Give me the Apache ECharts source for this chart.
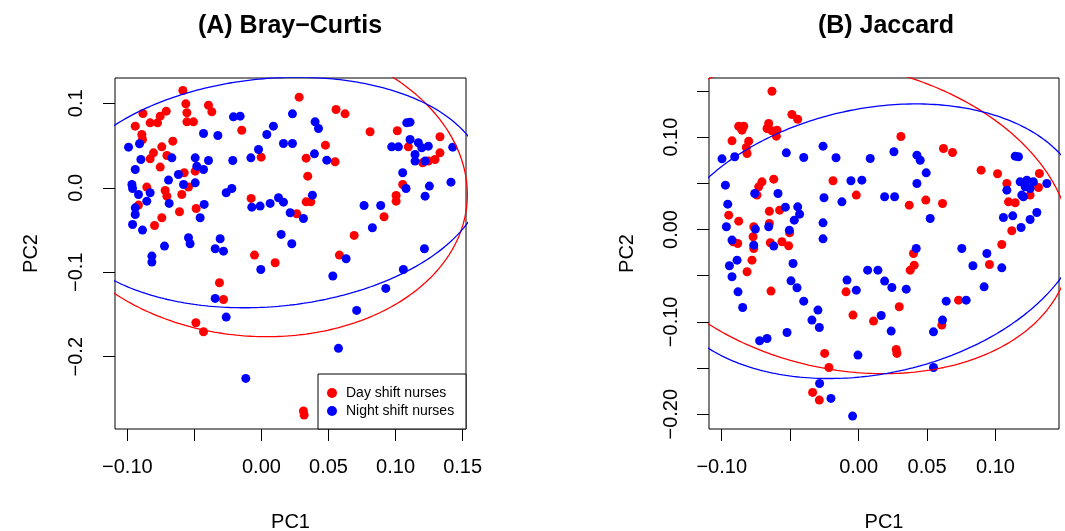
<!DOCTYPE html>
<html>
<head>
<meta charset="utf-8">
<script src="https://cdn.jsdelivr.net/npm/echarts@6/dist/echarts.min.js"></script>
<style>
  html, body { margin: 0; padding: 0; background: #fff; }
  #chart { width: 1065px; height: 531px; }
</style>
</head>
<body>
<div id="chart"></div>
<script>
// groups and panel titles
const groups = ["Day shift nurses", "Night shift nurses"];
const panelTitles = ["(A) Bray\u2212Curtis", "(B) Jaccard"];

// (A) Bray-Curtis PCoA scores [PC1, PC2]
const bcDay = [
  [-0.0586,0.1152],[0.0281,0.1073],[-0.0564,0.0994],[-0.0395,0.0978],[-0.0370,0.0899],[-0.0556,0.0888],
  [-0.0710,0.0907],[-0.0755,0.0848],[-0.0775,0.0769],[-0.0830,0.0769],[-0.0884,0.0880],[-0.0941,0.0730],
  [-0.0892,0.0631],[-0.0887,0.0572],[-0.0556,0.0781],[-0.0507,0.0781],[-0.0147,0.0682],[0.0556,0.0927],
  [0.0623,0.0876],[0.0810,0.0663],[0.1013,0.0675],[0.1331,0.0604],[0.1331,0.0414],[0.1294,0.0335],
  [0.1244,0.0316],[0.1202,0.0296],[0.1095,0.0485],[-0.0002,0.0363],[0.0333,0.0351],[0.0477,0.0505],
  [0.0549,0.0308],[0.0345,0.0138],[-0.0661,0.0552],[-0.0743,0.0485],[-0.0805,0.0414],[-0.0830,0.0343],
  [-0.0705,0.0383],[-0.0755,0.0245],[-0.0576,0.0178],[-0.0494,0.0197],[-0.0544,0.0008],[-0.0594,-0.0079],
  [-0.0718,-0.0032],[-0.0705,-0.0099],[-0.0855,0.0008],[-0.0917,-0.0205],[-0.0611,-0.0284],[-0.0487,-0.0245],
  [-0.0743,-0.0355],[-0.0797,-0.0446],[-0.0077,-0.0126],[0.0333,-0.0166],[0.0368,-0.0166],[0.0263,-0.0308],
  [0.1053,0.0039],[0.1004,-0.0091],[0.1004,-0.0158],[0.0914,-0.0343],[0.0691,-0.0564],[-0.0052,-0.0797],
  [0.0102,-0.0888],[0.0581,-0.0797],[-0.0313,-0.1124],[-0.0283,-0.1322],[-0.0489,-0.1598],[-0.0432,-0.1704],
  [0.0313,-0.2643],[0.0318,-0.2690]
];
const bcNight = [
  [-0.0432,0.0643],[-0.0325,0.0619],[-0.0991,0.0481],[-0.0909,0.0521],[-0.0209,0.0840],[-0.0159,0.0848],
  [0.0089,0.0730],[0.0040,0.0631],[0.0231,0.0876],[0.0400,0.0781],[0.0425,0.0702],[0.0164,0.0525],
  [0.0231,0.0525],[-0.0022,0.0454],[-0.0079,0.0355],[-0.0214,0.0323],[0.0395,0.0402],[0.0487,0.0327],
  [-0.0668,0.0355],[-0.0899,0.0335],[-0.0941,0.0217],[-0.0494,0.0355],[-0.0482,0.0256],[-0.0395,0.0323],
  [-0.0432,0.0217],[-0.0619,0.0158],[-0.0693,0.0091],[-0.0581,0.0039],[-0.0494,0.0059],[-0.0966,0.0039],
  [-0.0961,-0.0008],[-0.0917,-0.0079],[-0.0855,-0.0158],[-0.0830,-0.0059],[-0.0941,-0.0237],[-0.0941,-0.0316],
  [-0.0688,-0.0185],[-0.0427,-0.0197],[-0.0457,-0.0355],[-0.0961,-0.0434],[-0.0887,-0.0501],[-0.0263,-0.0059],
  [-0.0221,-0.0008],[-0.0072,-0.0229],[-0.0010,-0.0217],[0.0065,-0.0185],[0.0127,-0.0118],[0.0164,-0.0170],
  [0.0214,-0.0296],[0.0313,-0.0363],[0.0380,-0.0087],[0.0147,-0.0552],[0.0226,-0.0663],[-0.0544,-0.0592],
  [-0.0532,-0.0663],[-0.0308,-0.0604],[-0.0345,-0.0722],[-0.0283,-0.0750],[-0.0723,-0.0690],[-0.0817,-0.0809],
  [-0.0817,-0.0880],[-0.0005,-0.0967],[0.0532,-0.1045],[0.0631,-0.0840],[0.0765,-0.0209],[0.0889,-0.0209],
  [0.0827,-0.0473],[0.1215,-0.0722],[0.1058,-0.0967],[0.1053,0.0178],[0.1078,-0.0008],[0.1252,0.0020],
  [0.1220,-0.0099],[0.1413,0.0067],[0.0971,0.0485],[0.1021,0.0485],[0.1083,0.0769],[0.1108,0.0777],
  [0.1108,0.0572],[0.1170,0.0533],[0.1195,0.0473],[0.1244,0.0493],[0.1145,0.0394],[0.1145,0.0316],
  [0.1220,0.0316],[0.1426,0.0481],[0.0927,-0.1191],[0.0710,-0.1452],[-0.0345,-0.1310],[-0.0263,-0.1531],
  [0.0574,-0.1901],[-0.0117,-0.2257]
];

// (B) Jaccard PCoA scores [PC1, PC2]
const jcDay = [
  [-0.0633,0.1497],[-0.0487,0.1245],[-0.0445,0.1194],[-0.0876,0.1118],[-0.0839,0.1118],[-0.0852,0.1075],
  [-0.0657,0.1147],[-0.0669,0.1093],[-0.0633,0.1068],[-0.0596,0.1075],[-0.0601,0.1010],[-0.0925,0.0960],
  [-0.0803,0.0956],[-0.0820,0.0888],[-0.0815,0.0823],[0.0309,0.1007],[0.0620,0.0877],[0.0686,0.0833],
  [0.0895,0.0642],[0.1015,0.0603],[0.1083,0.0498],[0.1321,0.0606],[0.1314,0.0455],[0.1253,0.0372],
  [0.1095,0.0299],[0.1144,0.0289],[0.1119,-0.0014],[0.1046,-0.0162],[0.0956,-0.0379],[-0.0187,0.0527],
  [-0.0017,0.0372],[0.0370,0.0263],[0.0491,0.0318],[0.0613,0.0281],[-0.0620,0.0545],[-0.0706,0.0516],
  [-0.0730,0.0462],[-0.0742,0.0372],[-0.0949,0.0155],[-0.0876,0.0090],[-0.0652,0.0198],[-0.0577,0.0209],
  [-0.0652,0.0065],[-0.0766,0.0029],[-0.0771,-0.0079],[-0.0766,-0.0206],[-0.0917,-0.0133],[-0.0883,-0.0152],
  [-0.0645,-0.0144],[-0.0560,-0.0133],[-0.0511,-0.0177],[-0.0504,-0.0036],[-0.0779,-0.0332],[-0.0815,-0.0458],
  [0.0401,-0.0260],[0.0406,-0.0386],[0.0377,-0.0440],[-0.0640,-0.0667],[-0.0092,-0.0675],[-0.0041,-0.0927],
  [0.0109,-0.0992],[0.0297,-0.0837],[0.0608,-0.1035],[0.0730,-0.0765],[-0.0248,-0.1342],[-0.0217,-0.1494],
  [-0.0336,-0.1764],[-0.0287,-0.1847],[0.0275,-0.1299],[0.0280,-0.1342]
];
const jcNight = [
  [-0.0998,0.0765],[-0.0905,0.0787],[-0.0528,0.0830],[-0.0401,0.0779],[-0.0260,0.0902],[-0.0165,0.0776],
  [0.0085,0.0769],[0.0258,0.0841],[0.0426,0.0805],[0.0450,0.0750],[0.0494,0.0613],[0.0426,0.0498],
  [0.0523,0.0119],[-0.0973,0.0480],[-0.0956,0.0274],[-0.0966,0.0029],[-0.0925,-0.0115],[-0.0759,0.0390],
  [-0.0589,0.0390],[-0.0535,0.0242],[-0.0445,0.0245],[-0.0431,0.0166],[-0.0470,0.0101],[-0.0260,0.0072],
  [-0.0260,-0.0101],[-0.0657,0.0029],[-0.0754,0.0004],[-0.0766,-0.0170],[-0.0620,-0.0180],[-0.0506,-0.0007],
  [-0.0253,0.0343],[-0.0122,0.0299],[-0.0056,0.0527],[0.0024,0.0534],[0.0190,0.0354],[0.0263,0.0354],
  [0.1144,0.0794],[0.1168,0.0787],[0.1180,0.0516],[0.1229,0.0534],[0.1277,0.0516],[0.1375,0.0498],
  [0.1217,0.0462],[0.1253,0.0444],[0.1192,0.0372],[0.1204,0.0354],[0.1083,0.0426],[0.1058,0.0130],
  [0.1126,0.0148],[0.1302,0.0184],[0.1253,0.0108],[0.1187,0.0022],[0.0754,-0.0206],[0.0835,-0.0393],
  [0.0937,-0.0260],[0.1046,-0.0415],[0.0421,-0.0206],[-0.0944,-0.0393],[-0.0888,-0.0332],[-0.0925,-0.0512],
  [0.0066,-0.0440],[0.0141,-0.0440],[-0.0085,-0.0548],[0.0190,-0.0559],[-0.0494,-0.0556],[-0.0479,-0.0368],
  [-0.0881,-0.0675],[-0.0847,-0.0844],[-0.0450,-0.0631],[-0.0401,-0.0776],[-0.0341,-0.0981],[-0.0297,-0.0873],
  [-0.0287,-0.1061],[-0.0523,-0.1115],[-0.0723,-0.1205],[-0.0669,-0.1180],[-0.0017,-0.0657],[0.0243,-0.0628],
  [0.0348,-0.0646],[0.0917,-0.0621],[0.0786,-0.0765],[0.0640,-0.0776],[0.0613,-0.0981],[0.0547,-0.1108],
  [0.0238,-0.1100],[0.0165,-0.0931],[-0.0005,-0.1360],[0.0547,-0.1494],[-0.0285,-0.1667],[-0.0202,-0.1829],
  [-0.0044,-0.2020]
];

// group ellipses: [centre x, centre y, x-half-axis, y shear, y-half-axis]
const bcEllipseDay = [-0.0050, 0.0021, 0.1585, -0.0101, 0.1781];
const bcEllipseNight = [0.0069, -0.0056, 0.1588, 0.0170, 0.1354];
const jcEllipseDay = [-0.0100, 0.0130, 0.1650, -0.0289, 0.1666];
const jcEllipseNight = [0.0100, -0.0127, 0.1550, 0.0304, 0.1455];

// axis ranges and ticks
const bcXRange = [-0.1092, 0.1525];
const bcYRange = [-0.2856, 0.1300];
const jcXRange = [-0.1093, 0.1464];
const jcYRange = [-0.2160, 0.1640];
const bcXTicks = [-0.1, -0.05, 0, 0.05, 0.1, 0.15];
const bcXLabels = [-0.1, 0, 0.05, 0.1, 0.15];
const bcYTicks = [-0.2, -0.1, 0, 0.1];
const bcYLabels = [-0.2, -0.1, 0, 0.1];
const jcXTicks = [-0.1, -0.05, 0, 0.05, 0.1];
const jcXLabels = [-0.1, 0, 0.05, 0.1];
const jcYTicks = [-0.2, -0.15, -0.1, -0.05, 0, 0.05, 0.1, 0.15];
const jcYLabels = [-0.2, -0.1, 0, 0.1];

const RED = "#ff0000";
const BLUE = "#0000ff";
const FONT = "'Liberation Sans', Arial, Helvetica, sans-serif";

function ellipsePath(p) {
  const [cx, cy, ax, ay, by] = p;
  const pts = [];
  for (let i = 0; i <= 360; i++) {
    const t = (i * Math.PI) / 180;
    pts.push([cx + ax * Math.cos(t), cy + ay * Math.cos(t) + by * Math.sin(t)]);
  }
  return pts;
}

function fmt(digits) {
  return (v) => (v < -1e-9 ? "\u2212" : "") + Math.abs(v).toFixed(digits);
}

function xAxisFor(grid, range, ticks, labels) {
  return {
    type: "value", gridIndex: grid, min: range[0], max: range[1],
    name: "PC1", nameLocation: "middle", nameGap: 83,
    nameTextStyle: { fontFamily: FONT, fontSize: 20, color: "#000" },
    axisLine: { show: false, onZero: false },
    splitLine: { show: false },
    axisTick: { show: true, length: 12, customValues: ticks, lineStyle: { color: "#000", width: 1 } },
    axisLabel: { customValues: labels, formatter: fmt(2), margin: 28, hideOverlap: false,
      fontFamily: FONT, fontSize: 20, color: "#000" },
  };
}

function yAxisFor(grid, range, ticks, labels, digits, margin, gap) {
  return {
    type: "value", gridIndex: grid, min: range[0], max: range[1],
    name: "PC2", nameLocation: "middle", nameGap: gap, nameRotate: 90,
    nameTextStyle: { fontFamily: FONT, fontSize: 20, color: "#000" },
    axisLine: { show: false, onZero: false },
    splitLine: { show: false },
    axisTick: { show: true, length: 12, customValues: ticks, lineStyle: { color: "#000", width: 1 } },
    axisLabel: { customValues: labels, formatter: fmt(digits), rotate: 90, margin, hideOverlap: false,
      fontFamily: FONT, fontSize: 20, color: "#000" },
  };
}

function points(name, data, color, axis) {
  return {
    name, type: "scatter", xAxisIndex: axis, yAxisIndex: axis, data,
    symbol: "circle", symbolSize: 9, itemStyle: { color, opacity: 1 },
    silent: true,
  };
}

function ring(data, color, axis) {
  return {
    type: "line", xAxisIndex: axis, yAxisIndex: axis, data,
    showSymbol: false, symbol: "none", clip: true, silent: true, z: 3,
    lineStyle: { color, width: 1.3 },
  };
}

const chart = echarts.init(document.getElementById("chart"));
chart.setOption({
  animation: false,
  backgroundColor: "#fff",
  grid: [
    { left: 115, top: 78, width: 351, height: 351, show: true, borderColor: "#000", borderWidth: 1,
      backgroundColor: "transparent", containLabel: false, outerBoundsMode: "none" },
    { left: 709, top: 78, width: 350, height: 351, show: true, borderColor: "#000", borderWidth: 1,
      backgroundColor: "transparent", containLabel: false, outerBoundsMode: "none" },
  ],
  xAxis: [xAxisFor(0, bcXRange, bcXTicks, bcXLabels), xAxisFor(1, jcXRange, jcXTicks, jcXLabels)],
  yAxis: [yAxisFor(0, bcYRange, bcYTicks, bcYLabels, 1, 29, 74), yAxisFor(1, jcYRange, jcYTicks, jcYLabels, 2, 28, 72)],
  legend: {
    data: groups, left: 327, top: 386, orient: "vertical", icon: "circle",
    itemWidth: 10, itemHeight: 10, itemGap: 4, padding: 0, z: 10,
    textStyle: { fontFamily: FONT, fontSize: 14, color: "#000", lineHeight: 14, padding: [0, 0, 0, 4] },
    selectedMode: false,
  },
  graphic: [
    { type: "rect", z: 5, shape: { x: 318, y: 374, width: 148, height: 55 },
      style: { fill: "#fff", stroke: "#000", lineWidth: 1 } },
    { type: "text", x: 290, y: 26, style: { text: panelTitles[0], align: "center", verticalAlign: "middle",
      font: "bold 25px " + FONT, fill: "#000" } },
    { type: "text", x: 886, y: 26, style: { text: panelTitles[1], align: "center", verticalAlign: "middle",
      font: "bold 25px " + FONT, fill: "#000" } },
  ],
  series: [
    points(groups[0], bcDay, RED, 0),
    points(groups[1], bcNight, BLUE, 0),
    ring(ellipsePath(bcEllipseDay), RED, 0),
    ring(ellipsePath(bcEllipseNight), BLUE, 0),
    points(groups[0], jcDay, RED, 1),
    points(groups[1], jcNight, BLUE, 1),
    ring(ellipsePath(jcEllipseDay), RED, 1),
    ring(ellipsePath(jcEllipseNight), BLUE, 1),
  ],
});
</script>
</body>
</html>
